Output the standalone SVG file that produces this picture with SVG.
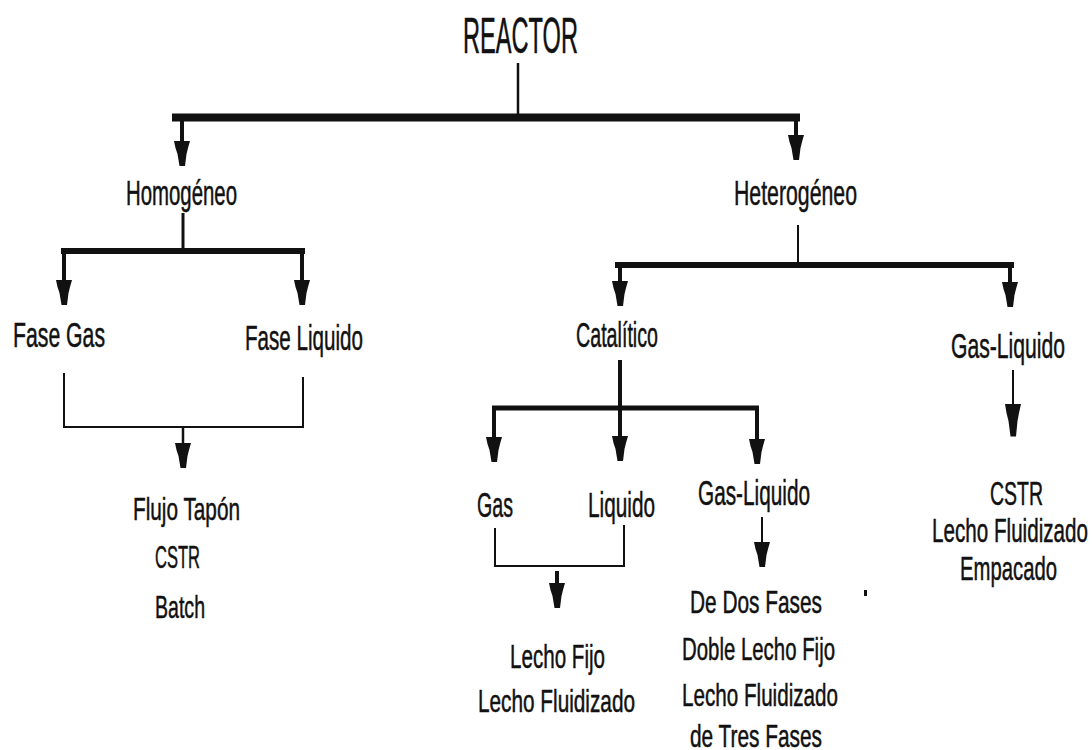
<svg xmlns="http://www.w3.org/2000/svg" xmlns:xlink="http://www.w3.org/1999/xlink" width="1092" height="750" viewBox="0 0 1092 750">
<style>
  text { font-family: "Liberation Sans", Arial, sans-serif; fill: #111; stroke: #111; stroke-width: 0.5; text-anchor: middle; }
  .t1 { font-size: 50px; }
  .t2 { font-size: 35px; }
  .t3 { font-size: 32px; }
  .t4 { font-size: 34px; }
  .thick { stroke: #111; fill: none; stroke-linecap: butt; }
  .thin { stroke: #111; fill: none; stroke-width: 2; }
  .ah { fill: #111; }
</style>
<defs>
  <path id="ah" d="M-8,0 L8,0 L6,7 L4.5,13 L3,25 L-2.5,25 L-4.5,13 L-6.5,7 Z"/>
</defs>
<rect width="1092" height="750" fill="#ffffff"/>
<g id="connectors">
  <line class="thick" x1="518" y1="63" x2="518" y2="118" stroke-width="2.5"/>
  <line class="thick" x1="172" y1="117.5" x2="800" y2="117.5" stroke-width="8"/>
  <line class="thick" x1="182" y1="117" x2="182" y2="142" stroke-width="4"/>
  <use href="#ah" class="ah" transform="translate(182,141)"/>
  <line class="thick" x1="796" y1="117" x2="796" y2="136" stroke-width="4"/>
  <use href="#ah" class="ah" transform="translate(796,135)"/>
  <line class="thick" x1="183" y1="213" x2="183" y2="250" stroke-width="3"/>
  <line class="thick" x1="61" y1="251" x2="305" y2="251" stroke-width="6"/>
  <line class="thick" x1="64" y1="250" x2="64" y2="284" stroke-width="4"/>
  <use href="#ah" class="ah" transform="translate(64,280)"/>
  <line class="thick" x1="302" y1="250" x2="302" y2="284" stroke-width="4"/>
  <use href="#ah" class="ah" transform="translate(302,280)"/>
  <polyline class="thin" points="64,373 64,427 303,427 303,377"/>
  <line class="thick" x1="183" y1="427" x2="183" y2="446" stroke-width="2.5"/>
  <use href="#ah" class="ah" transform="translate(183,443)"/>
  <line class="thick" x1="798" y1="225" x2="798" y2="265" stroke-width="2"/>
  <line class="thick" x1="615" y1="265" x2="1014" y2="265" stroke-width="6"/>
  <line class="thick" x1="620" y1="264" x2="620" y2="284" stroke-width="4"/>
  <use href="#ah" class="ah" transform="translate(620,281)"/>
  <line class="thick" x1="1010" y1="264" x2="1010" y2="284" stroke-width="4"/>
  <use href="#ah" class="ah" transform="translate(1010,282)"/>
  <line class="thick" x1="620" y1="360" x2="620" y2="440" stroke-width="4"/>
  <line class="thick" x1="492" y1="408" x2="759" y2="408" stroke-width="5"/>
  <use href="#ah" class="ah" transform="translate(620,436)"/>
  <line class="thick" x1="494" y1="407" x2="494" y2="440" stroke-width="4"/>
  <use href="#ah" class="ah" transform="translate(494,437)"/>
  <line class="thick" x1="757" y1="407" x2="757" y2="442" stroke-width="4"/>
  <use href="#ah" class="ah" transform="translate(757,439)"/>
  <polyline class="thin" points="495,528 495,566 624,566 624,525" stroke-width="2.5"/>
  <line class="thick" x1="557" y1="571" x2="557" y2="586" stroke-width="4"/>
  <use href="#ah" class="ah" transform="translate(557,583)"/>
  <line class="thick" x1="762" y1="517" x2="762" y2="545" stroke-width="2"/>
  <use href="#ah" class="ah" transform="translate(762,542)"/>
  <line class="thick" x1="1013" y1="370" x2="1013" y2="408" stroke-width="2"/>
  <use href="#ah" class="ah" transform="translate(1013,404) scale(1,1.3)"/>
</g>
<g id="reactor"><text class="t1" x="520.5" y="53" textLength="115" lengthAdjust="spacingAndGlyphs">REACTOR</text></g>
<g id="homogeneo"><text class="t2" x="181.5" y="205" textLength="111" lengthAdjust="spacingAndGlyphs">Homogéneo</text></g>
<g id="heterogeneo"><text class="t2" x="795.5" y="205" textLength="123" lengthAdjust="spacingAndGlyphs">Heterogéneo</text></g>
<g id="fase-gas"><text class="t2" x="59" y="347" textLength="92" lengthAdjust="spacingAndGlyphs">Fase Gas</text></g>
<g id="fase-liquido"><text class="t2" x="304" y="350" textLength="118" lengthAdjust="spacingAndGlyphs">Fase Liquido</text></g>
<g id="homogeneo-tipos">
  <text class="t3" x="186.5" y="520" textLength="107" lengthAdjust="spacingAndGlyphs">Flujo Tapón</text>
  <text class="t3" x="177.5" y="568" textLength="45" lengthAdjust="spacingAndGlyphs">CSTR</text>
  <text class="t3" x="180" y="618" textLength="50" lengthAdjust="spacingAndGlyphs">Batch</text>
</g>
<g id="catalitico"><text class="t2" x="617" y="347" textLength="82" lengthAdjust="spacingAndGlyphs">Catalítico</text></g>
<g id="gas-liquido-het"><text class="t2" x="1008" y="358" textLength="114" lengthAdjust="spacingAndGlyphs">Gas-Liquido</text></g>
<g id="gas"><text class="t2" x="495" y="517" textLength="36" lengthAdjust="spacingAndGlyphs">Gas</text></g>
<g id="liquido"><text class="t2" x="621.5" y="517" textLength="67" lengthAdjust="spacingAndGlyphs">Liquido</text></g>
<g id="gas-liquido-cat"><text class="t2" x="754" y="505" textLength="112" lengthAdjust="spacingAndGlyphs">Gas-Liquido</text></g>
<g id="lecho-cat">
  <text class="t4" x="557.5" y="668" textLength="95" lengthAdjust="spacingAndGlyphs">Lecho Fijo</text>
  <text class="t3" x="556.5" y="712" textLength="157" lengthAdjust="spacingAndGlyphs">Lecho Fluidizado</text>
</g>
<g id="gas-liquido-cat-tipos">
  <text class="t3" x="756" y="613" textLength="132" lengthAdjust="spacingAndGlyphs">De Dos Fases</text>
  <text class="t3" x="758.5" y="660" textLength="153" lengthAdjust="spacingAndGlyphs">Doble Lecho Fijo</text>
  <text class="t3" x="760" y="706" textLength="156" lengthAdjust="spacingAndGlyphs">Lecho Fluidizado</text>
  <text class="t3" x="756" y="747" textLength="132" lengthAdjust="spacingAndGlyphs">de Tres Fases</text>
</g>
<g id="gas-liquido-het-tipos">
  <text class="t4" x="1016.5" y="505" textLength="53" lengthAdjust="spacingAndGlyphs">CSTR</text>
  <text class="t4" x="1010" y="542" textLength="156" lengthAdjust="spacingAndGlyphs">Lecho Fluidizado</text>
  <text class="t4" x="1008.5" y="580" textLength="97" lengthAdjust="spacingAndGlyphs">Empacado</text>
</g>
<rect x="864" y="590" width="3" height="6" fill="#111"/>
</svg>
